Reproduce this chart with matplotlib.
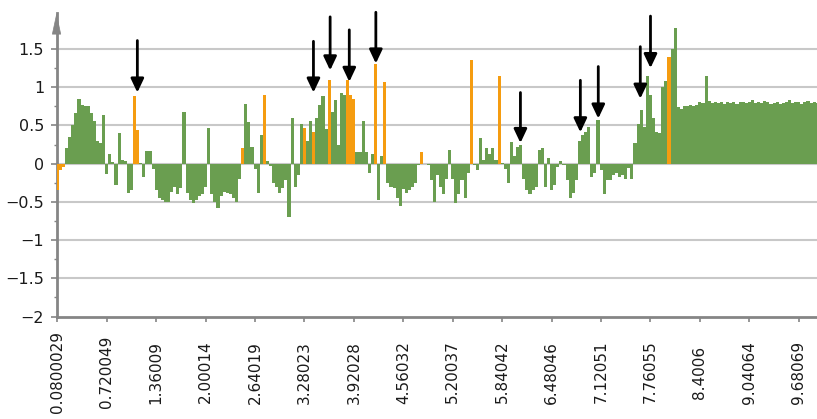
import matplotlib
matplotlib.use("Agg")
import matplotlib.pyplot as plt
import numpy as np
from matplotlib.lines import Line2D
from matplotlib.ticker import MultipleLocator

# ------------------------------------
# DATA
# ------------------------------------

VALUES = [
    -0.35, -0.08, -0.04, 0.21, 0.35, 0.50, 0.66, 0.84, 0.77, 0.76,
    0.75, 0.66, 0.56, 0.30, 0.27, 0.64, -0.14, 0.12, 0.02, -0.28,
    0.40, 0.05, 0.03, -0.38, -0.35, 0.88, 0.44, 0.01, -0.17, 0.17,
    0.16, -0.07, -0.35, -0.45, -0.48, -0.50, -0.50, -0.37, -0.30, -0.40,
    -0.32, 0.68, -0.38, -0.48, -0.52, -0.47, -0.42, -0.40, -0.30, 0.46,
    -0.40, -0.50, -0.58, -0.42, -0.37, -0.38, -0.40, -0.45, -0.50, -0.20,
    0.20, 0.78, 0.55, 0.22, -0.07, -0.38, 0.38, 0.90, 0.03, -0.03,
    -0.25, -0.30, -0.38, -0.32, -0.22, -0.70, 0.60, -0.30, -0.15, 0.52,
    0.47, 0.30, 0.56, 0.42, 0.60, 0.77, 0.88, 0.45, 1.10, 0.68,
    0.83, 0.25, 0.93, 0.90, 1.10, 0.90, 0.85, 0.15, 0.15, 0.56,
    0.15, -0.12, 0.13, 1.30, -0.48, 0.10, 1.07, -0.25, -0.30, -0.32,
    -0.45, -0.56, -0.33, -0.38, -0.35, -0.30, -0.25, -0.02, 0.15, -0.01,
    -0.02, -0.22, -0.50, -0.15, -0.30, -0.40, -0.20, 0.18, -0.20, -0.52,
    -0.40, -0.22, -0.45, -0.12, 1.35, -0.02, -0.08, 0.33, 0.05, 0.20,
    0.12, 0.20, 0.05, 1.15, 0.01, -0.07, -0.25, 0.28, 0.10, 0.22,
    0.25, -0.20, -0.35, -0.40, -0.35, -0.30, 0.18, 0.20, -0.30, 0.08,
    -0.35, -0.28, -0.05, 0.03, -0.02, -0.22, -0.45, -0.38, -0.22, 0.30,
    0.37, 0.42, 0.48, -0.18, -0.12, 0.57, -0.08, -0.40, -0.22, -0.22,
    -0.15, -0.12, -0.18, -0.15, -0.20, -0.06, -0.20, 0.27, 0.52, 0.70,
    0.48, 1.15, 0.90, 0.60, 0.42, 0.40, 1.00, 1.08, 1.40, 1.50,
    1.77, 0.74, 0.72, 0.76, 0.75, 0.77, 0.75, 0.77, 0.80, 0.79,
    1.15, 0.82, 0.79, 0.80, 0.79, 0.80, 0.78, 0.80, 0.79, 0.80,
    0.78, 0.80, 0.81, 0.79, 0.80, 0.83, 0.79, 0.80, 0.79, 0.82,
    0.80, 0.78, 0.79, 0.81, 0.78, 0.79, 0.80, 0.83, 0.79, 0.80,
    0.81, 0.78, 0.80, 0.82, 0.79, 0.80, 0.79,
]

# bars drawn in orange
HIGHLIGHT = [0, 1, 2, 25, 26, 60, 67, 80, 83, 88, 94, 95, 96,
             103, 106, 118, 134, 143, 198]

X_LABELS = ["0.0800029", "0.720049", "1.36009", "2.00014", "2.64019",
            "3.28023", "3.92028", "4.56032", "5.20037", "5.84042",
            "6.48046", "7.12051", "7.76055", "8.4006", "9.04064", "9.68069"]
LABEL_EVERY = 16

Y_TICKS = [-2, -1.5, -1, -0.5, 0, 0.5, 1, 1.5]
Y_LABELS = ["\u22122", "\u22121.5", "\u22121", "\u22120.5", "0", "0.5", "1", "1.5"]

# black marker arrows: bar position, tip value, tail value
ARROW_X = [25.9, 82.9, 88.3, 94.5, 103.1, 149.9, 169.3, 175.1, 188.7, 192.0]
ARROW_TIP = [0.93, 0.93, 1.22, 1.07, 1.31, 0.27, 0.41, 0.59, 0.85, 1.25]
ARROW_TAIL = [1.61, 1.60, 1.92, 1.75, 1.98, 0.93, 1.09, 1.27, 1.53, 1.93]

GREEN = "#6a9e50"
ORANGE = "#f59c10"
AXIS_GRAY = "#858585"
GRID_GRAY = "#c8c8c8"
Y_RANGE = (-2, 1.97)
RECT = [0.0692, 0.2446, 0.9308, 0.7243]

plt.rcParams["font.family"] = ["DejaVu Sans"]

# ------------------------------------
# FIGURE
# ------------------------------------

fig = plt.figure(figsize=(8.17, 4.19), dpi=100)

ax = fig.add_axes(RECT, zorder=1)
ax.patch.set_visible(False)

x = np.arange(len(VALUES))
colors = [ORANGE if i in HIGHLIGHT else GREEN for i in x]
ax.bar(x, VALUES, width=1.0, color=colors, linewidth=0, zorder=3)

ax.set_xlim(-0.26, 245.9)
ax.set_ylim(*Y_RANGE)

# gridlines as figure-level lines, placed through the axes' own transform
fig_from_disp = fig.transFigure.inverted()
for yv in Y_TICKS[1:]:
    x0, y0 = fig_from_disp.transform(ax.transAxes.transform((0, 0)))
    _, yg = fig_from_disp.transform(ax.transData.transform((0, yv)))
    fig.add_artist(Line2D([RECT[0], RECT[0] + RECT[2]], [yg, yg],
                          transform=fig.transFigure, color=GRID_GRAY,
                          linewidth=1.5, zorder=0.5))

for side in ["top", "right"]:
    ax.spines[side].set_visible(False)
for side in ["left", "bottom"]:
    ax.spines[side].set_color(AXIS_GRAY)
    ax.spines[side].set_linewidth(2)

# y axis
ax.set_yticks(Y_TICKS)
ax.set_yticklabels(Y_LABELS, fontsize=11.5, color="#1a1a1a")
ax.yaxis.set_minor_locator(MultipleLocator(0.25))
ax.tick_params(axis="y", which="major", length=4.3, width=1.2,
               color=AXIS_GRAY, pad=4.7)
ax.tick_params(axis="y", which="minor", length=2.2, width=1.0,
               color=AXIS_GRAY)

# arrow head on top of the y axis
ax.annotate("", xy=(0, 1.97), xycoords=("axes fraction", "data"),
            xytext=(0, 1.72), textcoords=("axes fraction", "data"),
            arrowprops=dict(arrowstyle="-|>,head_length=1.4,head_width=0.3",
                            color=AXIS_GRAY, lw=0.5, mutation_scale=10,
                            shrinkA=0, shrinkB=0),
            annotation_clip=False, zorder=5)

# x axis (category labels every 16 bars)
ax.set_xticks(np.arange(len(X_LABELS)) * LABEL_EVERY)
ax.set_xticklabels(X_LABELS, rotation=90, va="center", fontsize=11,
                   color="#1a1a1a")
ax.tick_params(axis="x", length=3.6, width=1.2, color=AXIS_GRAY, pad=36.4)

# marker arrows
for ax_x, tip, tail in zip(ARROW_X, ARROW_TIP, ARROW_TAIL):
    ax.annotate("", xy=(ax_x, tip), xytext=(ax_x, tail),
                arrowprops=dict(arrowstyle="-|>,head_length=0.55,head_width=0.26",
                                color="black", lw=2.0, mutation_scale=15,
                                shrinkA=0, shrinkB=0),
                annotation_clip=False, zorder=6)

fig.savefig("out.png", dpi=100)
